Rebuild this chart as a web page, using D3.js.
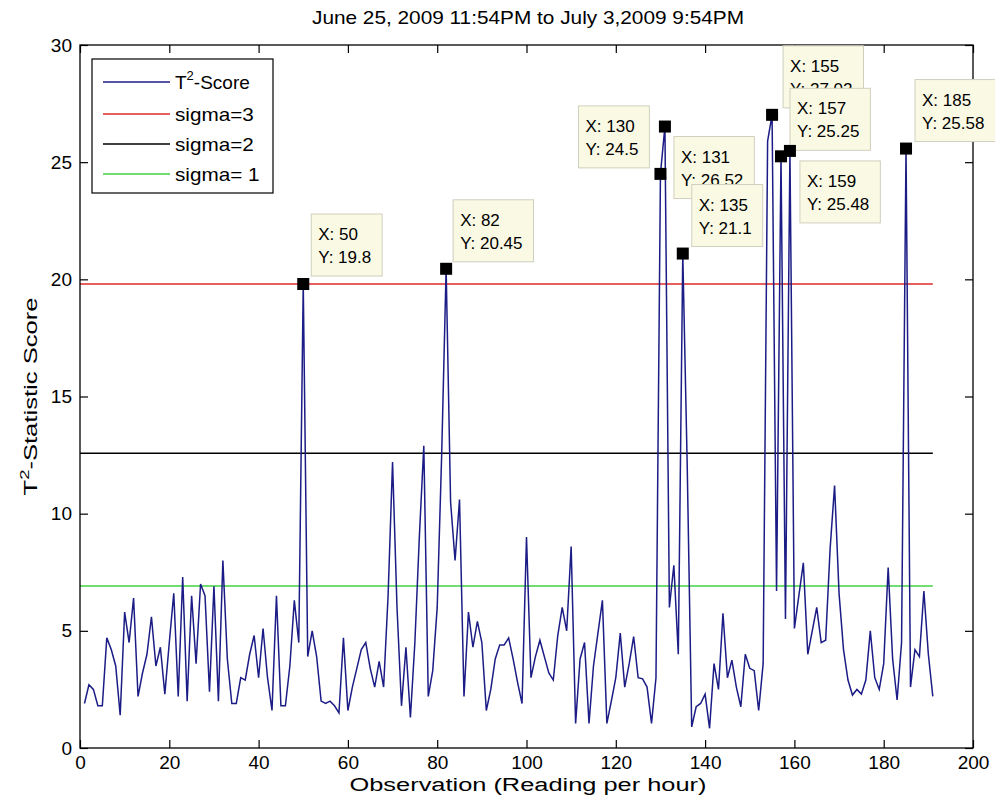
<!DOCTYPE html>
<html>
<head>
<meta charset="utf-8">
<script src="https://cdn.jsdelivr.net/npm/d3@7"></script>
<style>
  body { margin: 0; background: #fff; }
  text { font-family: "Liberation Sans", Arial, Helvetica, sans-serif; fill: #000; }
</style>
</head>
<body>
<svg id="chart" width="995" height="809"></svg>
<script>
// Hourly T^2 statistic, observations 1..191
const observations = d3.range(1, 192);
const t2Scores = [
  1.9, 2.7, 2.5, 1.8, 1.8, 4.7, 4.2, 3.5, 1.4, 5.8,
  4.5, 6.4, 2.2, 3.2, 4.0, 5.6, 3.5, 4.3, 2.3, 4.5,
  6.6, 2.2, 7.3, 2.0, 6.5, 3.6, 7.0, 6.5, 2.4, 6.9,
  2.0, 8.0, 3.8, 1.9, 1.9, 3.0, 2.9, 4.0, 4.8, 3.0,
  5.1, 3.0, 1.6, 6.5, 1.8, 1.8, 3.5, 6.3, 4.5, 19.8,
  3.9, 5.0, 3.9, 2.0, 1.9, 2.0, 1.8, 1.5, 4.7, 1.6,
  2.6, 3.4, 4.2, 4.5, 3.4, 2.6, 3.7, 2.6, 6.5, 12.2,
  6.0, 1.8, 4.3, 1.3, 4.5, 9.0, 12.9, 2.2, 3.3, 6.0,
  12.5, 20.45, 10.5, 8.0, 10.6, 2.2, 5.8, 4.3, 5.4, 4.5,
  1.6, 2.5, 3.8, 4.4, 4.4, 4.7, 3.8, 2.8, 1.9, 9.0,
  3.0, 3.9, 4.6, 3.9, 3.2, 2.9, 4.8, 6.0, 5.0, 8.6,
  1.05, 3.8, 4.5, 1.05, 3.5, 4.9, 6.3, 1.05, 2.0, 3.0,
  4.9, 2.6, 3.6, 4.75, 3.0, 2.95, 2.6, 1.05, 3.0, 24.5,
  26.52, 6.0, 7.8, 4.0, 21.1, 12.0, 0.9, 1.76, 1.9, 2.3,
  0.84, 3.6, 2.5, 5.75, 3.0, 3.75, 2.6, 1.76, 4.0, 3.4,
  3.3, 1.6, 3.6, 25.9, 27.02, 6.7, 25.25, 5.5, 25.48, 5.1,
  6.5, 7.9, 4.0, 5.0, 6.0, 4.5, 4.6, 8.5, 11.2, 6.6,
  4.2, 2.9, 2.26, 2.5, 2.3, 2.9, 5.0, 3.0, 2.5, 3.6,
  7.7, 3.8, 2.05, 4.5, 25.58, 2.6, 4.2, 3.9, 6.7, 4.0,
  2.2
];

// Control limits
const sigmaNames  = ["sigma=3", "sigma=2", "sigma= 1"];
const sigmaValues = [19.8, 12.58, 6.91];
const sigmaColors = ["#dd2a2a", "#000000", "#3fd23f"];
const sigmaRange  = [0, 191];

// Data tips shown on the peaks
const tipX = [50, 82, 130, 131, 135, 155, 157, 159, 185];
const tipOffsets = [[8, -70], [7, -69], [-82, -68], [9, 10], [9, -69], [11, -69], [9, -68], [10, 10], [9, -69]];

const xTicks = d3.range(0, 201, 20);
const yTicks = d3.range(0, 31, 5);

const titleText = "June 25, 2009 11:54PM to July 3,2009 9:54PM";
const xLabelText = "Observation (Reading per hour)";

const svg = d3.select("#chart");
const margin = { left: 80, top: 45, right: 973, bottom: 748 };

const x = d3.scaleLinear().domain([0, 200]).range([margin.left, margin.right]);
const y = d3.scaleLinear().domain([0, 30]).range([margin.bottom, margin.top]);

const lineColor = "#1c1c86";
const tickFont = 19;

// stretch a text element horizontally to a given advance width
function fitWidth(sel, w) {
  sel.attr("textLength", w).attr("lengthAdjust", "spacingAndGlyphs");
}
// widen a text element by a factor of its natural width
function widen(sel, k) {
  sel.each(function () {
    const w = this.getComputedTextLength();
    d3.select(this).attr("textLength", w * k).attr("lengthAdjust", "spacingAndGlyphs");
  });
}

// axes with inward ticks on all four sides
function styleAxis(g) {
  g.select(".domain").remove();
  g.selectAll(".tick line").attr("stroke", "#000").attr("stroke-width", 1.2);
  g.selectAll(".tick text").attr("font-size", tickFont).attr("fill", "#000")
    .attr("font-family", "Liberation Sans, Arial, sans-serif");
}
const tickLen = 8;
svg.append("g").attr("transform", `translate(0,${margin.bottom})`)
  .call(d3.axisBottom(x).tickValues(xTicks).tickSize(-tickLen).tickPadding(8).tickFormat(d3.format("d")))
  .call(styleAxis);
svg.append("g").attr("transform", `translate(0,${margin.top})`)
  .call(d3.axisTop(x).tickValues(xTicks).tickSize(-tickLen).tickFormat(""))
  .call(styleAxis);
svg.append("g").attr("transform", `translate(${margin.left},0)`)
  .call(d3.axisLeft(y).tickValues(yTicks).tickSize(-tickLen).tickPadding(8).tickFormat(d3.format("d")))
  .call(styleAxis);
svg.append("g").attr("transform", `translate(${margin.right},0)`)
  .call(d3.axisRight(y).tickValues(yTicks).tickSize(-tickLen).tickFormat(""))
  .call(styleAxis);

// sigma lines
svg.append("g").selectAll("line").data(sigmaValues).join("line")
  .attr("x1", x(sigmaRange[0])).attr("x2", x(sigmaRange[1]))
  .attr("y1", d => y(d)).attr("y2", d => y(d))
  .attr("stroke", (d, i) => sigmaColors[i]).attr("stroke-width", 1.5);

// T^2 score trace
const series = observations.map((o, i) => [o, t2Scores[i]]);
svg.append("path").datum(series)
  .attr("fill", "none").attr("stroke", lineColor).attr("stroke-width", 1.5)
  .attr("d", d3.line().x(d => x(d[0])).y(d => y(d[1])));

// frame
svg.append("rect")
  .attr("x", margin.left).attr("y", margin.top)
  .attr("width", margin.right - margin.left).attr("height", margin.bottom - margin.top)
  .attr("fill", "none").attr("stroke", "#000").attr("stroke-width", 1.3);

// legend
const legend = svg.append("g");
legend.append("rect").attr("x", 92).attr("y", 59).attr("width", 181).attr("height", 134)
  .attr("fill", "#fff").attr("stroke", "#000").attr("stroke-width", 1.2);
const legendColors = [lineColor].concat(sigmaColors);
const legendRows = [82, 114, 144, 174];
legendRows.forEach((ly, i) => {
  legend.append("line").attr("x1", 103).attr("x2", 170).attr("y1", ly).attr("y2", ly)
    .attr("stroke", legendColors[i]).attr("stroke-width", 1.5);
  const t = legend.append("text").attr("x", 175).attr("y", ly + 7).attr("font-size", 19);
  if (i === 0) {
    t.append("tspan").text("T");
    t.append("tspan").attr("dy", -9).attr("font-size", 13).text("2");
    t.append("tspan").attr("dy", 9).text("-Score");
  } else {
    t.text(sigmaNames[i - 1]).call(widen, 1.09);
  }
});

// data tips
const tips = svg.append("g");
tipX.forEach((tx, i) => {
  const ty = t2Scores[observations.indexOf(tx)];
  const px = x(tx), py = y(ty);
  const [dx, dy] = tipOffsets[i];
  const g = tips.append("g");
  g.append("rect").attr("x", px - 6).attr("y", py - 6).attr("width", 12).attr("height", 12).attr("fill", "#000");
  const box = g.append("g").attr("transform", `translate(${px + dx},${py + dy})`);
  const lines = ["X: " + tx, "Y: " + ty];
  const rect = box.append("rect").attr("height", 62).attr("fill", "#fafae4").attr("stroke", "#cfcfbf");
  let w = 0;
  lines.forEach((s, k) => {
    const t = box.append("text").attr("x", 7).attr("y", 26 + k * 23).attr("font-size", 17).text(s);
    w = Math.max(w, t.node().getComputedTextLength());
  });
  rect.attr("width", w + 18);
});

// title and axis labels
svg.append("text").attr("x", 528).attr("y", 24)
  .attr("text-anchor", "middle").attr("font-size", 19).text(titleText)
  .call(fitWidth, 432);
svg.append("text").attr("x", 528).attr("y", 791)
  .attr("text-anchor", "middle").attr("font-size", 18).text(xLabelText)
  .call(fitWidth, 357);
const yl = svg.append("text").attr("transform", `translate(37,${(margin.top + margin.bottom) / 2}) rotate(-90)`)
  .attr("text-anchor", "middle").attr("font-size", 18);
yl.append("tspan").text("T");
yl.append("tspan").attr("dy", -8).attr("font-size", 13).text("2");
yl.append("tspan").attr("dy", 8).text("-Statistic Score");
yl.call(fitWidth, 198);
</script>
</body>
</html>
